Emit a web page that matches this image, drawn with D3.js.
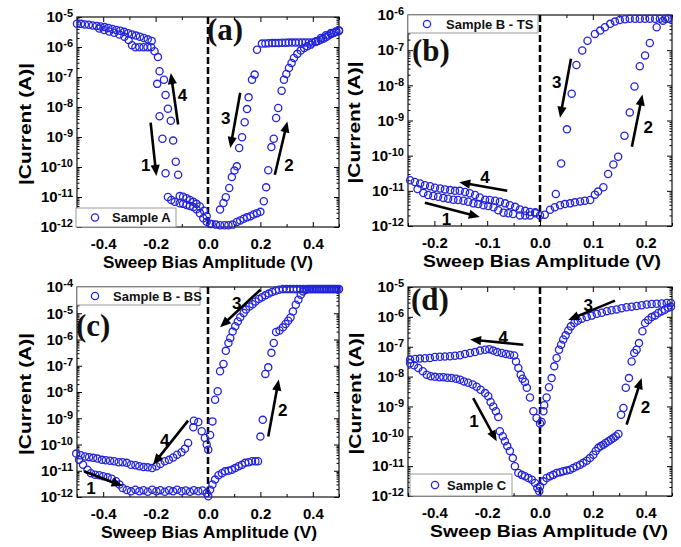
<!DOCTYPE html>
<html><head><meta charset="utf-8">
<script src="https://cdn.jsdelivr.net/npm/d3@7"></script>
<style>body{margin:0;background:#fff}svg{display:block}</style>
</head><body>
<svg id="c" width="681" height="547"></svg>
<script>
// ---------------- DATA ----------------
const xTicksWide = [-0.4, -0.2, 0, 0.2, 0.4];
const xLabelsWide = ["-0.4", "-0.2", "0.0", "0.2", "0.4"];
const xMinorWide = [-0.5, -0.3, -0.1, 0.1, 0.3, 0.5];
const xTicksNarrow = [-0.2, -0.1, 0, 0.1, 0.2];
const xLabelsNarrow = ["-0.2", "-0.1", "0.0", "0.1", "0.2"];
const xMinorNarrow = [-0.25, -0.15, -0.05, 0.05, 0.15, 0.25];
const yExpA = [-12, -11, -10, -9, -8, -7, -6, -5];
const yExpB = [-12, -11, -10, -9, -8, -7, -6];
const yExpC = [-12, -11, -10, -9, -8, -7, -6, -5, -4];
const yExpD = [-12, -11, -10, -9, -8, -7, -6, -5];
const panelTags = ["(a)", "(b)", "(c)", "(d)"];
const legendNames = ["Sample A", "Sample B - TS", "Sample B - BS", "Sample C"];
const xTitle = "Sweep Bias Amplitude (V)";
const yTitle = "|Current (A)|";

// Panel (a): Sample A  [bias V, |current| A]
const aSweep1 = [[-0.500,6.0e-6],[-0.485,5.9e-6],[-0.470,5.6e-6],[-0.455,5.5e-6],[-0.440,5.2e-6],[-0.425,5.0e-6],[-0.410,4.8e-6],[-0.395,4.6e-6],[-0.380,4.3e-6],[-0.365,4.0e-6],[-0.350,3.7e-6],[-0.335,3.5e-6],[-0.320,3.2e-6],[-0.305,2.9e-6],[-0.290,2.6e-6],[-0.275,2.4e-6],[-0.260,2.2e-6],[-0.245,2.0e-6],[-0.230,1.8e-6],[-0.215,1.6e-6],[-0.204,7.2e-7],[-0.191,4.6e-7],[-0.194,5.9e-8],[-0.185,4.9e-9],[-0.174,8.7e-10],[-0.162,6.2e-11],[-0.153,1.0e-11],[-0.140,7.9e-12],[-0.127,6.9e-12],[-0.108,6.2e-12],[-0.095,5.9e-12],[-0.082,5.4e-12],[-0.069,5.0e-12],[-0.056,4.6e-12],[-0.044,3.9e-12],[-0.031,2.9e-12],[-0.018,1.95e-12],[-0.005,1.5e-12]];
const aSweep2 = [[0.008,1.26e-12],[0.014,1.26e-12],[0.030,1.2e-12],[0.046,1.15e-12],[0.063,1.15e-12],[0.078,1.15e-12],[0.094,1.2e-12],[0.110,1.48e-12],[0.123,1.66e-12],[0.136,1.9e-12],[0.149,2.1e-12],[0.162,2.3e-12],[0.174,2.6e-12],[0.187,2.9e-12],[0.200,3.2e-12],[0.213,7.2e-12],[0.222,2.1e-11],[0.230,7.8e-11],[0.242,4.6e-10],[0.251,8.7e-10],[0.260,4.3e-9],[0.268,9.3e-9],[0.281,3.5e-8],[0.290,8.1e-8],[0.299,1.26e-7],[0.309,2.0e-7],[0.319,2.95e-7],[0.328,4.3e-7],[0.341,5.9e-7],[0.354,7.6e-7],[0.367,9.3e-7],[0.379,1.05e-6],[0.392,1.2e-6],[0.412,1.55e-6],[0.431,2.0e-6],[0.450,2.45e-6],[0.469,2.95e-6],[0.488,3.3e-6],[0.500,3.6e-6]];
const aSweep3 = [[0.500,3.4e-6],[0.490,3.2e-6],[0.480,2.95e-6],[0.470,2.7e-6],[0.460,2.4e-6],[0.450,2.1e-6],[0.440,1.9e-6],[0.430,1.74e-6],[0.420,1.6e-6],[0.410,1.48e-6],[0.398,1.41e-6],[0.385,1.41e-6],[0.372,1.41e-6],[0.360,1.41e-6],[0.347,1.41e-6],[0.334,1.4e-6],[0.321,1.4e-6],[0.308,1.4e-6],[0.296,1.38e-6],[0.283,1.38e-6],[0.270,1.36e-6],[0.257,1.35e-6],[0.245,1.35e-6],[0.232,1.33e-6],[0.219,1.32e-6],[0.206,1.3e-6],[0.187,8.1e-7],[0.178,1.2e-7],[0.168,8.1e-8],[0.155,2.1e-8],[0.149,8.5e-9],[0.140,3.1e-9],[0.130,9.8e-10],[0.119,4.3e-10],[0.110,1.05e-10],[0.101,7.6e-11],[0.091,4.6e-11],[0.081,2.0e-11],[0.068,9.8e-12],[0.059,6.3e-12],[0.046,3.8e-12]];
const aSweep4 = [[-0.005,2.3e-12],[-0.015,3.5e-12],[-0.031,4.8e-12],[-0.044,5.9e-12],[-0.056,6.9e-12],[-0.069,7.9e-12],[-0.082,9.1e-12],[-0.095,1.02e-11],[-0.108,1.07e-11],[-0.114,5.5e-11],[-0.123,1.5e-10],[-0.133,7.6e-10],[-0.142,3.5e-9],[-0.153,8.7e-9],[-0.162,2.5e-8],[-0.168,8.1e-8],[-0.185,1.55e-7],[-0.217,9.8e-7],[-0.231,9.8e-7],[-0.246,9.8e-7],[-0.262,9.8e-7],[-0.277,9.8e-7],[-0.290,1.15e-6],[-0.303,1.7e-6],[-0.319,2.2e-6],[-0.338,2.6e-6],[-0.358,3.0e-6],[-0.377,3.3e-6],[-0.396,3.7e-6],[-0.415,4.1e-6]];
const aArrows = [
  {from:[-0.114,2.6e-9], to:[-0.142,1.35e-7], label:"4", at:[-0.097,2.5e-8]},
  {from:[-0.219,3.0e-9], to:[-0.197,5.0e-11], label:"1", at:[-0.238,1.2e-10]},
  {from:[0.123,3.0e-8], to:[0.085,4.3e-10], label:"3", at:[0.068,4.3e-9]},
  {from:[0.255,5.5e-11], to:[0.303,3.3e-9], label:"2", at:[0.309,1.2e-10]}
];

// Panel (b): Sample B - TS
const bSweep1 = [[-0.232,1.12e-11],[-0.221,8.7e-12],[-0.212,7.6e-12],[-0.202,7.1e-12],[-0.193,6.8e-12],[-0.183,6.3e-12],[-0.174,6.0e-12],[-0.164,5.6e-12],[-0.155,5.5e-12],[-0.145,5.2e-12],[-0.136,4.9e-12],[-0.126,4.4e-12],[-0.117,4.2e-12],[-0.107,3.9e-12],[-0.098,3.7e-12],[-0.088,3.4e-12],[-0.079,2.8e-12],[-0.069,2.4e-12],[-0.060,2.3e-12],[-0.051,2.2e-12],[-0.038,2.0e-12],[-0.028,2.0e-12],[-0.019,2.0e-12],[-0.009,2.3e-12],[0.000,2.0e-12],[0.009,2.1e-12]];
const bSweep2 = [[0.019,2.9e-12],[0.028,3.4e-12],[0.038,3.9e-12],[0.047,4.2e-12],[0.057,4.4e-12],[0.066,4.7e-12],[0.076,5.0e-12],[0.085,5.2e-12],[0.095,5.5e-12],[0.104,7.8e-12],[0.110,9.5e-12],[0.120,1.26e-11],[0.129,3.0e-11],[0.139,5.6e-11],[0.148,9.3e-11],[0.160,3.7e-10],[0.170,1.7e-9],[0.179,9.3e-9],[0.189,3.5e-8],[0.199,7.1e-8],[0.208,1.6e-7],[0.221,4.5e-7],[0.233,6.9e-7],[0.243,7.8e-7]];
const bSweep3 = [[0.243,7.8e-7],[0.237,7.8e-7],[0.227,7.8e-7],[0.218,7.8e-7],[0.208,7.8e-7],[0.199,7.8e-7],[0.189,7.8e-7],[0.180,7.8e-7],[0.170,7.8e-7],[0.161,7.6e-7],[0.151,7.2e-7],[0.142,6.5e-7],[0.133,5.6e-7],[0.123,4.5e-7],[0.114,3.6e-7],[0.104,2.9e-7],[0.090,1.86e-7],[0.080,9.8e-8],[0.069,3.8e-8],[0.060,5.75e-9],[0.051,5.6e-10],[0.040,6.0e-11],[0.030,8.1e-12]];
const bSweep4 = [[-0.009,2.45e-12],[-0.019,2.5e-12],[-0.028,2.7e-12],[-0.038,2.95e-12],[-0.047,3.5e-12],[-0.057,3.9e-12],[-0.066,4.4e-12],[-0.076,4.9e-12],[-0.085,5.2e-12],[-0.095,5.5e-12],[-0.104,5.6e-12],[-0.114,6.5e-12],[-0.123,7.6e-12],[-0.133,8.5e-12],[-0.142,9.3e-12],[-0.152,1.0e-11],[-0.161,1.0e-11],[-0.170,1.05e-11],[-0.180,1.1e-11],[-0.189,1.17e-11],[-0.199,1.23e-11],[-0.208,1.35e-11],[-0.218,1.45e-11],[-0.227,1.62e-11],[-0.237,1.78e-11],[-0.246,2.0e-11]];
const bArrows = [
  {from:[-0.062,1.0e-11], to:[-0.153,1.76e-11], label:"4", at:[-0.104,2.45e-11]},
  {from:[-0.218,4.6e-12], to:[-0.114,1.8e-12], label:"1", at:[-0.177,1.6e-12]},
  {from:[0.0587,5.7e-8], to:[0.0379,1.2e-9], label:"3", at:[0.0316,1.26e-8]},
  {from:[0.174,1.8e-10], to:[0.194,5.5e-9], label:"2", at:[0.205,6.6e-10]}
];

// Panel (c): Sample B - BS
const cSweep1 = [[-0.492,2.6e-11],[-0.477,1.7e-11],[-0.460,1.1e-11],[-0.447,8.1e-12],[-0.431,7.1e-12],[-0.415,6.8e-12],[-0.400,6.2e-12],[-0.383,5.6e-12],[-0.367,5.0e-12],[-0.351,4.0e-12],[-0.338,3.0e-12],[-0.326,2.2e-12],[-0.310,1.86e-12],[-0.294,1.66e-12],[-0.277,1.9e-12],[-0.262,1.66e-12],[-0.246,1.82e-12],[-0.230,1.58e-12],[-0.213,1.9e-12],[-0.197,1.66e-12],[-0.182,1.82e-12],[-0.165,1.58e-12],[-0.149,1.82e-12],[-0.133,1.66e-12],[-0.118,1.9e-12],[-0.101,1.66e-12],[-0.085,1.78e-12],[-0.069,1.58e-12],[-0.054,1.82e-12],[-0.037,1.66e-12],[-0.021,1.78e-12],[-0.005,1.41e-12]];
const cSweep2 = [[0.001,1.07e-12],[0.008,1.9e-12],[0.017,3.0e-12],[0.027,4.6e-12],[0.040,6.8e-12],[0.053,8.1e-12],[0.065,9.5e-12],[0.078,1.0e-11],[0.091,1.1e-11],[0.104,1.26e-11],[0.117,1.48e-11],[0.130,1.7e-11],[0.142,2.0e-11],[0.155,2.1e-11],[0.168,2.3e-11],[0.181,2.3e-11],[0.191,2.3e-11],[0.200,2.0e-10],[0.209,8.7e-10],[0.219,4.9e-8],[0.230,8.7e-8],[0.242,3.1e-7],[0.251,7.4e-7],[0.260,1.95e-6],[0.273,2.2e-6],[0.286,2.9e-6],[0.296,3.9e-6],[0.306,5.2e-6],[0.315,6.9e-6],[0.324,1.17e-5],[0.335,2.1e-5],[0.345,3.3e-5],[0.354,5.1e-5],[0.363,6.8e-5],[0.373,7.9e-5],[0.385,8.3e-5],[0.397,8.3e-5],[0.410,8.3e-5],[0.423,8.3e-5],[0.436,8.3e-5],[0.449,8.3e-5],[0.462,8.3e-5],[0.474,8.3e-5],[0.487,8.3e-5],[0.500,8.3e-5]];
const cSweep3 = [[0.494,8.3e-5],[0.481,8.3e-5],[0.468,8.3e-5],[0.455,8.3e-5],[0.442,8.3e-5],[0.429,8.3e-5],[0.416,8.3e-5],[0.403,8.3e-5],[0.391,8.3e-5],[0.378,8.3e-5],[0.365,8.3e-5],[0.352,8.3e-5],[0.339,8.3e-5],[0.326,8.3e-5],[0.313,8.3e-5],[0.300,8.3e-5],[0.286,8.3e-5],[0.271,7.9e-5],[0.258,7.2e-5],[0.245,6.5e-5],[0.232,5.6e-5],[0.219,4.8e-5],[0.206,4.1e-5],[0.194,3.5e-5],[0.181,2.8e-5],[0.170,2.2e-5],[0.158,1.8e-5],[0.145,1.38e-5],[0.136,1.02e-5],[0.123,7.1e-6],[0.114,4.9e-6],[0.104,3.2e-6],[0.094,2.0e-6],[0.085,1.15e-6],[0.078,7.4e-7],[0.068,3.7e-7],[0.059,1.17e-7],[0.046,6.2e-8],[0.037,1.07e-8],[0.027,5.1e-9],[0.017,7.6e-10],[0.008,2.3e-10],[0.001,6.3e-11]];
const cSweep4 = [[-0.005,1.0e-10],[-0.012,1.78e-10],[-0.024,3.2e-10],[-0.037,7.2e-10],[-0.054,8.1e-10],[-0.056,4.5e-10],[-0.076,1.15e-10],[-0.088,6.9e-11],[-0.101,5.1e-11],[-0.118,4.1e-11],[-0.133,3.2e-11],[-0.149,2.6e-11],[-0.165,2.3e-11],[-0.182,1.8e-11],[-0.197,1.48e-11],[-0.213,1.26e-11],[-0.230,1.35e-11],[-0.246,1.38e-11],[-0.262,1.48e-11],[-0.277,1.62e-11],[-0.294,1.7e-11],[-0.310,2.0e-11],[-0.326,2.1e-11],[-0.341,2.1e-11],[-0.358,2.3e-11],[-0.374,2.4e-11],[-0.390,2.5e-11],[-0.405,2.6e-11],[-0.422,2.9e-11],[-0.438,3.1e-11],[-0.454,3.3e-11],[-0.469,3.5e-11],[-0.486,3.9e-11],[-0.503,4.5e-11]];
const cArrows = [
  {from:[-0.076,8.1e-10], to:[-0.21,1.7e-11], label:"4", at:[-0.165,1.5e-10]},
  {from:[-0.473,9.5e-12], to:[-0.326,2.6e-12], label:"1", at:[-0.447,2.2e-12]},
  {from:[0.2,7.9e-5], to:[0.046,2.9e-6], label:"3", at:[0.11,2.45e-5]},
  {from:[0.23,2.0e-10], to:[0.27,3.0e-8], label:"2", at:[0.285,2.0e-9]}
];

// Panel (d): Sample C
const dSweep1 = [[-0.492,2.8e-8],[-0.477,2.4e-8],[-0.461,1.95e-8],[-0.444,1.5e-8],[-0.429,1.15e-8],[-0.414,1.02e-8],[-0.398,9.8e-9],[-0.381,9.5e-9],[-0.366,9.5e-9],[-0.351,9.1e-9],[-0.335,8.9e-9],[-0.318,8.5e-9],[-0.303,7.9e-9],[-0.288,6.9e-9],[-0.272,6.2e-9],[-0.255,5.4e-9],[-0.240,4.6e-9],[-0.225,3.6e-9],[-0.208,2.8e-9],[-0.196,2.2e-9],[-0.187,1.41e-9],[-0.177,1.0e-9],[-0.167,6.9e-10],[-0.158,4.4e-10],[-0.152,1.48e-10],[-0.141,1.0e-10],[-0.133,6.8e-11],[-0.124,4.7e-11],[-0.114,3.2e-11],[-0.103,1.86e-11],[-0.095,1.0e-11],[-0.082,5.9e-12],[-0.069,5.1e-12],[-0.057,4.6e-12],[-0.044,4.0e-12],[-0.031,3.5e-12],[-0.019,2.75e-12],[-0.010,1.86e-12],[-0.003,1.45e-12]];
const dSweep2 = [[0.000,2.1e-12],[0.013,3.1e-12],[0.025,4.0e-12],[0.038,4.6e-12],[0.050,5.1e-12],[0.063,5.9e-12],[0.076,6.3e-12],[0.088,6.8e-12],[0.101,7.1e-12],[0.114,7.6e-12],[0.126,8.7e-12],[0.139,1.0e-11],[0.152,1.12e-11],[0.164,1.29e-11],[0.177,1.51e-11],[0.189,1.86e-11],[0.202,2.4e-11],[0.211,3.2e-11],[0.221,4.1e-11],[0.231,4.7e-11],[0.240,5.25e-11],[0.249,6.0e-11],[0.259,6.8e-11],[0.269,7.8e-11],[0.278,8.7e-11],[0.287,1.0e-10],[0.297,1.2e-10],[0.307,5.25e-10],[0.316,8.9e-10],[0.325,4.2e-9],[0.337,8.9e-9],[0.347,3.2e-8],[0.357,6.2e-8],[0.366,7.9e-8],[0.375,1.32e-7],[0.388,3.3e-7],[0.398,6.2e-7],[0.410,7.9e-7],[0.423,9.8e-7],[0.436,1.12e-6],[0.448,1.35e-6],[0.461,1.55e-6],[0.473,1.74e-6],[0.486,2.0e-6],[0.496,2.2e-6]];
const dSweep3 = [[0.496,2.9e-6],[0.480,2.9e-6],[0.461,2.8e-6],[0.442,2.75e-6],[0.423,2.7e-6],[0.404,2.6e-6],[0.385,2.45e-6],[0.366,2.3e-6],[0.347,2.2e-6],[0.328,2.1e-6],[0.309,1.95e-6],[0.290,1.78e-6],[0.271,1.66e-6],[0.253,1.55e-6],[0.234,1.38e-6],[0.215,1.26e-6],[0.196,1.1e-6],[0.177,9.8e-7],[0.158,8.7e-7],[0.143,7.4e-7],[0.130,6.2e-7],[0.117,4.8e-7],[0.107,3.5e-7],[0.097,2.4e-7],[0.088,1.74e-7],[0.080,1.17e-7],[0.072,7.9e-8],[0.063,4.2e-8],[0.054,2.2e-8],[0.044,8.9e-9],[0.034,4.4e-9],[0.025,2.0e-9],[0.016,1.1e-9],[0.013,6.9e-10],[0.006,3.0e-10]];
const dSweep4 = [[0.000,2.7e-10],[-0.013,4.1e-10],[-0.025,6.9e-10],[-0.038,2.0e-9],[-0.050,4.2e-9],[-0.057,6.6e-9],[-0.066,8.5e-9],[-0.073,1.15e-8],[-0.082,1.95e-8],[-0.091,3.2e-8],[-0.098,5.1e-8],[-0.114,5.4e-8],[-0.129,5.75e-8],[-0.145,6.2e-8],[-0.162,6.6e-8],[-0.177,7.4e-8],[-0.192,8.3e-8],[-0.208,7.9e-8],[-0.227,7.4e-8],[-0.246,6.6e-8],[-0.265,6.2e-8],[-0.284,5.75e-8],[-0.303,5.2e-8],[-0.322,5.0e-8],[-0.341,4.8e-8],[-0.360,4.7e-8],[-0.379,4.6e-8],[-0.398,4.5e-8],[-0.417,4.2e-8],[-0.436,4.1e-8],[-0.455,4.0e-8],[-0.473,3.9e-8],[-0.492,3.7e-8]];
const dArrows = [
  {from:[-0.063,1.17e-7], to:[-0.265,1.74e-7], label:"4", at:[-0.139,2.1e-7]},
  {from:[-0.253,1.9e-9], to:[-0.164,6.8e-11], label:"1", at:[-0.25,3.3e-10]},
  {from:[0.284,3.5e-6], to:[0.107,7.9e-7], label:"3", at:[0.183,2.6e-6]},
  {from:[0.328,2.45e-10], to:[0.385,8.9e-9], label:"2", at:[0.4,1.0e-9]}
];

// ---------------- LAYOUT ----------------
const FONT = "'Liberation Sans', Arial, Helvetica, sans-serif";
const BLUE = "#2424dc";
const svg = d3.select("#c");

const layouts = [
  {l:77, t:17, r:339, b:227, xDom:[-0.5,0.5], ticks:xTicksWide, labels:xLabelsWide, minor:xMinorWide, exps:yExpA,
   series:[aSweep1,aSweep2,aSweep3,aSweep4], arrows:aArrows, tagX:207, tagY:40, yTitleX:25, xTitleX:208, xTitleLen:210,
   leg:{x:76, y:208, w:100, h:19, cx:95, tx:112}},
  {l:408, t:15, r:672, b:226, xDom:[-0.25,0.25], ticks:xTicksNarrow, labels:xLabelsNarrow, minor:xMinorNarrow, exps:yExpB,
   series:[bSweep1,bSweep2,bSweep3,bSweep4], arrows:bArrows, tagX:412, tagY:61, yTitleX:354, xTitleX:542, xTitleLen:238,
   leg:{x:408, y:15, w:130, h:18, cx:427, tx:446}},
  {l:77, t:287, r:339, b:497, xDom:[-0.5,0.5], ticks:xTicksWide, labels:xLabelsWide, minor:xMinorWide, exps:yExpC,
   series:[cSweep1,cSweep2,cSweep3,cSweep4], arrows:cArrows, tagX:76, tagY:336, yTitleX:25, xTitleX:209, xTitleLen:216,
   leg:{x:77, y:287, w:123, h:18, cx:95, tx:113}},
  {l:408, t:287, r:672, b:496, xDom:[-0.5,0.5], ticks:xTicksWide, labels:xLabelsWide, minor:xMinorWide, exps:yExpD,
   series:[dSweep1,dSweep2,dSweep3,dSweep4], arrows:dArrows, tagX:411, tagY:310, yTitleX:355, xTitleX:549, xTitleLen:238,
   leg:{x:410, y:474, w:102, h:22, cx:435, tx:447}}
];

function drawArrow(g, x1, y1, x2, y2) {
  const a = Math.atan2(y2 - y1, x2 - x1);
  const L = 11, W = 4.6;
  const bx = x2 - L * Math.cos(a), by = y2 - L * Math.sin(a);
  g.append("line").attr("x1", x1).attr("y1", y1).attr("x2", bx + Math.cos(a)).attr("y2", by + Math.sin(a))
    .attr("stroke", "#000").attr("stroke-width", 2.6);
  g.append("path").attr("d", `M${x2},${y2}L${bx + W*Math.sin(a)},${by - W*Math.cos(a)}L${bx - W*Math.sin(a)},${by + W*Math.cos(a)}Z`)
    .attr("fill", "#000");
}

layouts.forEach((cfg, pi) => {
  const g = svg.append("g");
  const x = d3.scaleLinear().domain(cfg.xDom).range([cfg.l, cfg.r]);
  const yLo = Math.pow(10, cfg.exps[0]), yHi = Math.pow(10, cfg.exps[cfg.exps.length - 1]);
  const y = d3.scaleLog().domain([yLo, yHi]).range([cfg.b, cfg.t]);
  const decades = cfg.exps.map(e => Math.pow(10, e));
  const yMinor = y.ticks().filter(v => !decades.some(d => Math.abs(v / d - 1) < 1e-6));

  // zero-bias dashed line
  g.append("line").attr("x1", x(0)).attr("x2", x(0)).attr("y1", cfg.t).attr("y2", cfg.b)
    .attr("stroke", "#000").attr("stroke-width", 2.5).attr("stroke-dasharray", "7,3");

  // axes (ticks inward, all four sides)
  const styleAxis = sel => { sel.select(".domain").remove(); sel.attr("font-family", FONT).attr("font-weight", "bold"); };
  g.append("g").attr("transform", `translate(0,${cfg.b})`)
    .call(d3.axisBottom(x).tickValues(cfg.ticks).tickSize(-5).tickPadding(11.5).tickFormat((d, i) => cfg.labels[i]))
    .call(styleAxis).attr("font-size", 15);
  g.append("g").attr("transform", `translate(0,${cfg.b})`)
    .call(d3.axisBottom(x).tickValues(cfg.minor).tickSize(-3).tickFormat("")).call(styleAxis);
  g.append("g").attr("transform", `translate(0,${cfg.t})`)
    .call(d3.axisTop(x).tickValues(cfg.ticks).tickSize(-5).tickFormat("")).call(styleAxis);
  g.append("g").attr("transform", `translate(0,${cfg.t})`)
    .call(d3.axisTop(x).tickValues(cfg.minor).tickSize(-3).tickFormat("")).call(styleAxis);

  const ya = g.append("g").attr("transform", `translate(${cfg.l},0)`)
    .call(d3.axisLeft(y).tickValues(decades).tickSize(-5).tickPadding(4).tickFormat(""))
    .call(styleAxis).attr("font-size", 15);
  ya.selectAll(".tick text").each(function(d, i) {
    const t = d3.select(this);
    t.text(null);
    t.append("tspan").text("10");
    t.append("tspan").attr("dy", "-0.45em").attr("font-size", 11).text(String(cfg.exps[i]));
  });
  g.append("g").attr("transform", `translate(${cfg.l},0)`)
    .call(d3.axisLeft(y).tickValues(yMinor).tickSize(-2.5).tickFormat("")).call(styleAxis);
  g.append("g").attr("transform", `translate(${cfg.r},0)`)
    .call(d3.axisRight(y).tickValues(decades).tickSize(-5).tickFormat("")).call(styleAxis);
  g.append("g").attr("transform", `translate(${cfg.r},0)`)
    .call(d3.axisRight(y).tickValues(yMinor).tickSize(-2.5).tickFormat("")).call(styleAxis);

  // frame
  g.append("rect").attr("x", cfg.l).attr("y", cfg.t).attr("width", cfg.r - cfg.l).attr("height", cfg.b - cfg.t)
    .attr("fill", "none").attr("stroke", "#111").attr("stroke-width", 1.2);

  // data points
  const pts = g.append("g");
  cfg.series.forEach(s => {
    pts.selectAll(null).data(s).join("circle")
      .attr("cx", d => x(d[0])).attr("cy", d => y(d[1])).attr("r", 3.6)
      .attr("fill", "none").attr("stroke", BLUE).attr("stroke-width", 1.3);
  });

  // arrows + numbers
  cfg.arrows.forEach(a => {
    drawArrow(g, x(a.from[0]), y(a.from[1]), x(a.to[0]), y(a.to[1]));
    g.append("text").attr("x", x(a.at[0])).attr("y", y(a.at[1])).attr("dy", "0.36em")
      .attr("text-anchor", "middle").attr("font-family", FONT).attr("font-weight", "bold")
      .attr("font-size", 17).text(a.label);
  });

  // legend
  const L = cfg.leg;
  g.append("rect").attr("x", L.x).attr("y", L.y).attr("width", L.w).attr("height", L.h)
    .attr("fill", "#fff").attr("stroke", "#999").attr("stroke-width", 1);
  g.append("circle").attr("cx", L.cx).attr("cy", L.y + L.h / 2).attr("r", 3.6)
    .attr("fill", "none").attr("stroke", BLUE).attr("stroke-width", 1.3);
  g.append("text").attr("x", L.tx).attr("y", L.y + L.h / 2).attr("dy", "0.36em")
    .attr("font-family", FONT).attr("font-weight", "bold").attr("font-size", 13).attr("fill", "#111")
    .text(legendNames[pi]);

  // titles
  g.append("text").attr("x", cfg.xTitleX).attr("y", cfg.b + 41).attr("text-anchor", "middle")
    .attr("font-family", FONT).attr("font-weight", "bold").attr("font-size", 17)
    .attr("textLength", cfg.xTitleLen).attr("lengthAdjust", "spacingAndGlyphs").text(xTitle);
  const cy = (cfg.t + cfg.b) / 2 + 2;
  g.append("text").attr("transform", `translate(${cfg.yTitleX},${cy}) rotate(-90)`)
    .attr("text-anchor", "middle").attr("dy", "0.36em")
    .attr("font-family", FONT).attr("font-weight", "bold").attr("font-size", 17)
    .attr("textLength", 122).attr("lengthAdjust", "spacingAndGlyphs").text(yTitle);

  // panel tag
  g.append("text").attr("x", cfg.tagX).attr("y", cfg.tagY)
    .attr("font-family", "'Liberation Serif', 'Times New Roman', serif").attr("font-weight", "bold")
    .attr("font-size", 31).attr("fill", "#111").text(panelTags[pi]);
});
</script>
</body></html>
